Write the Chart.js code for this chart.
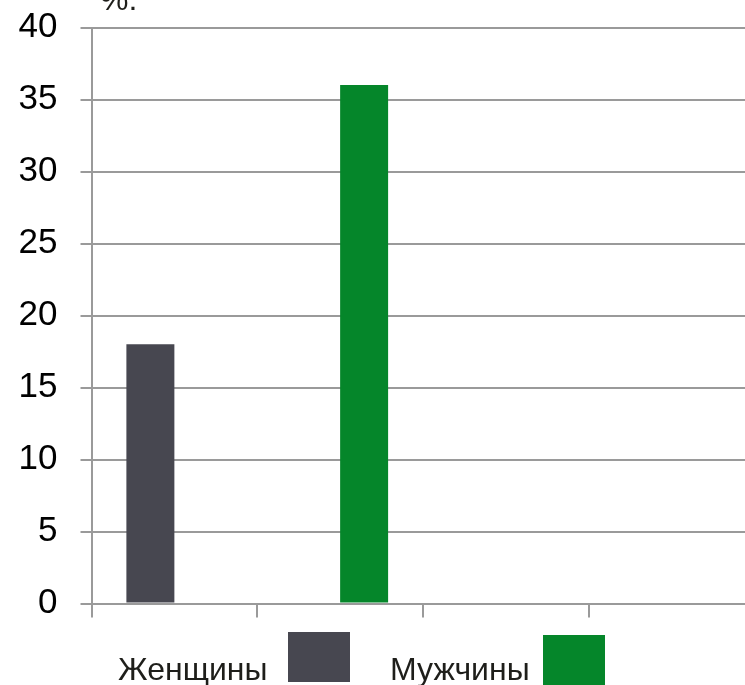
<!DOCTYPE html>
<html><head><meta charset="utf-8">
<script src="https://cdn.jsdelivr.net/npm/chart.js@4/dist/chart.umd.min.js"></script>
<style>html,body{margin:0;padding:0;overflow:hidden;background:#fff}</style>
</head><body>
<canvas id="c" width="760" height="685"></canvas>
<script>
const categories = ['', '', '', ''];
const seriesLabels = ['Женщины', 'Мужчины'];
const womenValues = [18, null, null, null];
const menValues = [null, 36, null, null];
const yMin = 0, yMax = 40, yStep = 5;
const unitLabel = '%:';

const FONT = "'Liberation Sans', Arial, sans-serif";
const GRID = '#9a9a9a';

const customLegend = {
  id: 'customLegend',
  afterDraw(chart, args, opts) {
    const ctx = chart.ctx;
    ctx.save();
    ctx.font = '32px ' + FONT;
    ctx.fillStyle = '#1e1e1a';
    ctx.textBaseline = 'alphabetic';
    ctx.fillText(unitLabel, opts.unitX, opts.unitY);
    chart.data.datasets.forEach((ds, i) => {
      const it = opts.items[i];
      ctx.fillStyle = '#1e1e1a';
      ctx.fillText(ds.label, it.tx, it.ty);
      ctx.fillStyle = ds.backgroundColor;
      ctx.fillRect(it.bx, it.by, it.bw, it.bh);
    });
    ctx.restore();
  }
};

new Chart(document.getElementById('c'), {
  type: 'bar',
  data: {
    labels: categories,
    datasets: [
      { label: seriesLabels[0], data: womenValues, backgroundColor: '#474750' },
      { label: seriesLabels[1], data: menValues, backgroundColor: '#05862a' }
    ]
  },
  options: {
    responsive: false,
    animation: false,
    devicePixelRatio: 1,
    layout: { padding: { top: 27.5, right: 5.5, left: 0, bottom: 0 } },
    datasets: { bar: { barPercentage: 1, categoryPercentage: 0.579 } },
    plugins: {
      legend: { display: false },
      tooltip: { enabled: false },
      customLegend: {
        unitX: 100, unitY: 10,
        items: [
          { tx: 118, ty: 680, bx: 288, by: 632, bw: 62, bh: 50 },
          { tx: 390, ty: 680, bx: 543, by: 635, bw: 62, bh: 50 }
        ]
      }
    },
    scales: {
      x: {
        afterFit(s) { s.height = 81.5; s.paddingLeft = 0; s.paddingRight = 0; },
        ticks: { display: false },
        grid: { drawOnChartArea: false, drawTicks: true, tickLength: 14, color: GRID, lineWidth: 2 },
        border: { color: GRID, width: 2 }
      },
      y: {
        min: yMin, max: yMax,
        afterFit(s) { s.width = 91.5; s.paddingTop = 0; s.paddingBottom = 0; },
        ticks: { stepSize: yStep, color: '#000', padding: 23, font: { family: FONT, size: 35 } },
        grid: { color: GRID, lineWidth: 2, tickLength: 11 },
        border: { color: GRID, width: 2 }
      }
    }
  },
  plugins: [customLegend]
});
</script>
</body></html>
